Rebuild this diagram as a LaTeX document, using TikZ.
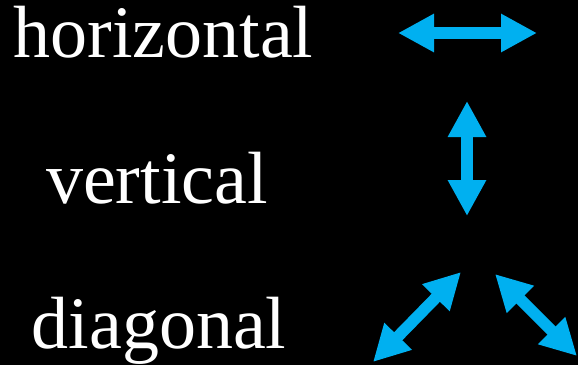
\documentclass[tikz,border=0pt]{standalone}
\usepackage{fontspec}
\setmainfont{Liberation Serif}
\usepackage{xcolor}
\usetikzlibrary{arrows.meta}
\definecolor{arrowblue}{RGB}{0,176,240}
\tikzset{
    label text/.style={text=white, inner sep=0pt, anchor=base, font=\fontsize{74}{88}\selectfont},
    double arrow/.style={draw=arrowblue, line width=11.5pt, {Triangle[length=36pt,width=36pt]}-{Triangle[length=36pt,width=36pt]}},
}

\begin{document}
\begin{tikzpicture}[x=1pt,y=-1pt]
            \fill[black] (0,0) rectangle (578,365);
            \useasboundingbox (0,0) rectangle (578,365);

            \node[label text] (hor) at (163.5,57) {horizontal};
            \node[label text] (ver) at (157,203) {vertical};
            \node[label text] (dia) at (159,348) {diagonal};

            \coordinate (h1) at (398,33);
            \coordinate (h2) at (537,33);

            \coordinate (v1) at (467,101);
            \coordinate (v2) at (467,216);

            \coordinate (d1) at (373,362);
            \coordinate (d2) at (461,272);
            \coordinate (d3) at (495,274);
            \coordinate (d4) at (577,356);

            \draw[double arrow] (h1) -- (h2);
            \draw[double arrow] (v1) -- (v2);
            \draw[double arrow] (d1) -- (d2);
            \draw[double arrow] (d3) -- (d4);
        \end{tikzpicture}
\end{document}
